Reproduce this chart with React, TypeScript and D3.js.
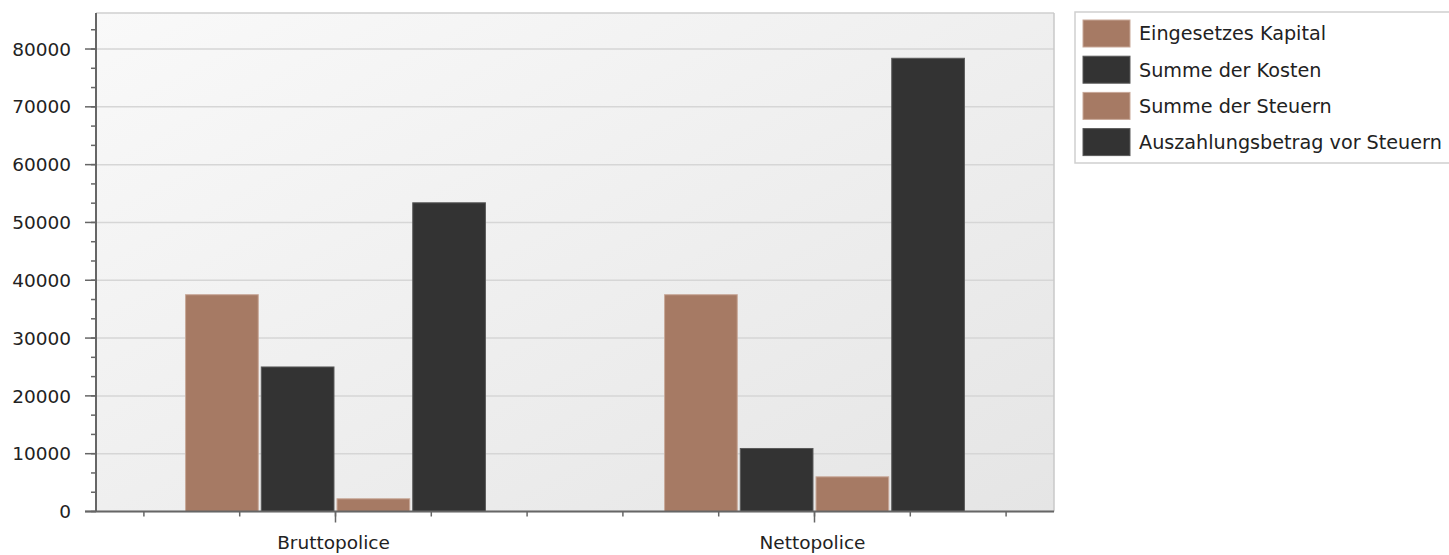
import React from "react";
import * as d3 from "d3";

const categories = ["Bruttopolice", "Nettopolice"];
const seriesNames = [
  "Eingesetzes Kapital",
  "Summe der Kosten",
  "Summe der Steuern",
  "Auszahlungsbetrag vor Steuern",
];
const seriesColors = ["#a67a64", "#333333", "#a67a64", "#333333"];
const seriesStrokes = ["#c8a898", "#5a5a5a", "#c8a898", "#5a5a5a"];
const bruttoValues = [37500, 25000, 2200, 53400];
const nettoValues = [37500, 10900, 6000, 78400];
const yTicks = [0, 10000, 20000, 30000, 40000, 50000, 60000, 70000, 80000];

const W = 1449;
const H = 555;
const left = 96;
const right = 1054;
const top = 13;
const bottom = 511.5;
const yMax = 86230;
const FONT = "DejaVu Sans, Verdana, sans-serif";

export default function App() {
  const values = [bruttoValues, nettoValues];
  const y = d3.scaleLinear().domain([0, yMax]).range([bottom, top]);
  const x0 = d3
    .scaleBand<string>()
    .domain(categories)
    .range([left, right])
    .paddingInner(0.374)
    .paddingOuter(0.187);
  const x1 = d3
    .scaleBand<string>()
    .domain(seriesNames)
    .range([0, x0.bandwidth()])
    .paddingInner(0.04);

  const step = (right - left) / (categories.length * 5);
  const xMinor = d3.range(categories.length * 5).map((i) => left + step / 2 + i * step);
  const yMinor: number[] = [];
  for (let v = 0; v <= yMax; v += 10000 / 3) yMinor.push(v);

  return (
    <svg
      width={W}
      height={H}
      style={{ position: "absolute", left: 0, top: 0, background: "#fff" }}
    >
      <defs>
        <linearGradient id="bg" x1="0" y1="0" x2="1" y2="1">
          <stop offset="0" stopColor="#f9f9f9" />
          <stop offset="1" stopColor="#e5e5e5" />
        </linearGradient>
      </defs>
      <rect x={left} y={top} width={right - left} height={bottom - top} fill="url(#bg)" />
      {yTicks.map((t) => (
        <line
          key={"g" + t}
          x1={left}
          x2={right}
          y1={y(t)}
          y2={y(t)}
          stroke="#d6d6d6"
          strokeWidth={1.5}
        />
      ))}
      <line x1={left} x2={right} y1={top} y2={top} stroke="#cfcfcf" strokeWidth={1.5} />
      <line x1={right} x2={right} y1={top} y2={bottom} stroke="#c8c8c8" strokeWidth={1.5} />
      {categories.map((c, ci) =>
        seriesNames.map((s, si) => {
          const v = values[ci][si];
          const bx = (x0(c) as number) + (x1(s) as number);
          return (
            <rect
              key={c + s}
              x={bx}
              y={y(v)}
              width={x1.bandwidth()}
              height={bottom - y(v)}
              fill={seriesColors[si]}
              stroke={seriesStrokes[si]}
              strokeWidth={1}
            />
          );
        })
      )}
      <line x1={left} x2={left} y1={top} y2={bottom} stroke="#666" strokeWidth={2} />
      {yMinor.map((v, i) => (
        <line
          key={"ym" + i}
          x1={left - 5}
          x2={left}
          y1={y(v)}
          y2={y(v)}
          stroke="#666"
          strokeWidth={1.5}
        />
      ))}
      {yTicks.map((t) => (
        <g key={"yt" + t}>
          <line x1={left - 11} x2={left} y1={y(t)} y2={y(t)} stroke="#666" strokeWidth={1.5} />
          <text
            x={71}
            y={y(t)}
            dy="0.36em"
            textAnchor="end"
            fontFamily={FONT}
            fontSize={18.5}
            fill="#222"
          >
            {t}
          </text>
        </g>
      ))}
      <line x1={left - 11} x2={right} y1={bottom} y2={bottom} stroke="#666" strokeWidth={2} />
      {xMinor.map((xx, i) => (
        <line
          key={"xm" + i}
          x1={xx}
          x2={xx}
          y1={bottom}
          y2={bottom + 5}
          stroke="#666"
          strokeWidth={1.5}
        />
      ))}
      {categories.map((c) => {
        const cx = (x0(c) as number) + x0.bandwidth() / 2;
        return (
          <g key={"xt" + c}>
            <line x1={cx} x2={cx} y1={bottom} y2={bottom + 11} stroke="#666" strokeWidth={1.5} />
            <text
              x={cx - 2}
              y={542}
              dy="0.36em"
              textAnchor="middle"
              fontFamily={FONT}
              fontSize={18.5}
              fill="#222"
            >
              {c}
            </text>
          </g>
        );
      })}
      <rect x={1075} y={12} width={380} height={151} fill="#fff" stroke="#cfcfcf" strokeWidth={1.5} />
      {seriesNames.map((s, i) => {
        const cy = 33.5 + i * 36.2;
        return (
          <g key={"lg" + s}>
            <rect
              x={1083}
              y={cy - 13.5}
              width={47}
              height={27}
              fill={seriesColors[i]}
              stroke={seriesStrokes[i]}
              strokeWidth={1}
            />
            <text
              x={1139}
              y={cy}
              dy="0.36em"
              fontFamily={FONT}
              fontSize={19.2}
              fill="#222"
            >
              {s}
            </text>
          </g>
        );
      })}
    </svg>
  );
}
